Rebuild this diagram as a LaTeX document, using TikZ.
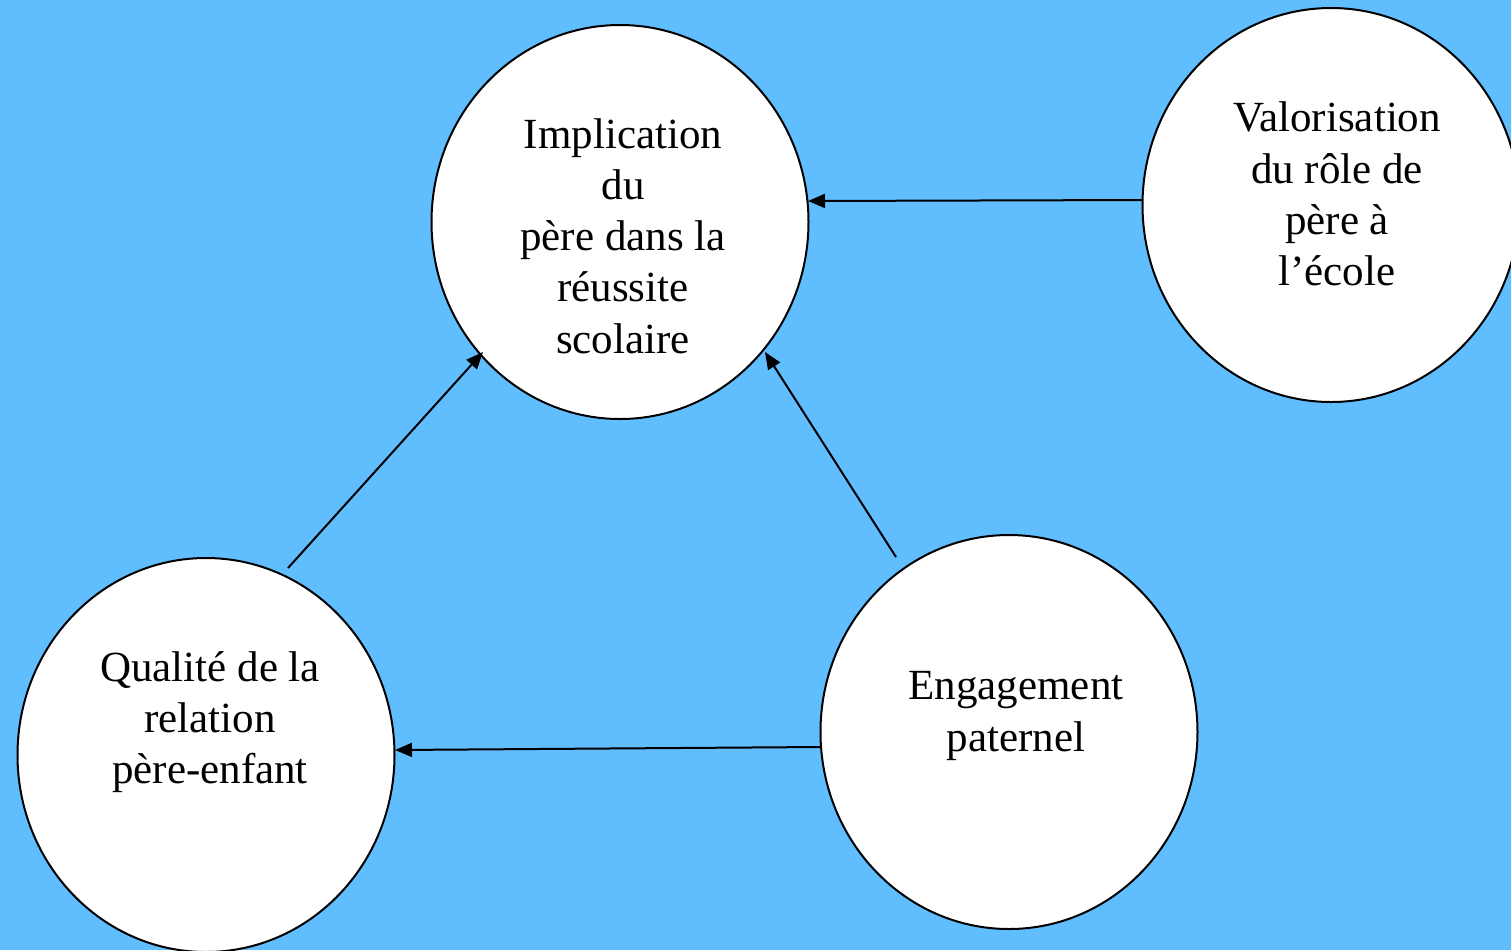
\documentclass[tikz,border=0pt]{standalone}
\usepackage{fontspec}
\setmainfont{Liberation Serif}
\usetikzlibrary{shapes.geometric,arrows.meta}
\definecolor{bgblue}{RGB}{96,189,254}
\begin{document}
\begin{tikzpicture}[x=0.5pt,y=-0.5pt,
  bubble/.style={ellipse,draw=black,line width=1pt,fill=white,minimum width=377pt*0.5,minimum height=394pt*0.5,inner sep=0pt},
  label text/.style={align=center,font=\fontsize{21.5pt}{25.6pt}\selectfont,inner sep=0pt},
  arr/.style={line width=1pt,-{Triangle[length=8.5pt,width=7pt]}}]
\fill[bgblue] (0,0) rectangle (1511,950);
\useasboundingbox (0,0) rectangle (1511,950);
\begin{scope}
\clip (0,0) rectangle (1511,950);
\node[bubble] (impl) at (620,222) {};
\node[bubble] (val) at (1331,205) {};
\node[bubble] (qual) at (206,755) {};
\node[bubble] (eng) at (1009,732) {};
\end{scope}
\node[label text] (implt) at (623,236) {Implication\\du\\père dans la\\réussite\\scolaire};
\node[label text] (valt) at (1337,194) {Valorisation\\du rôle de\\père à\\l’école};
\node[label text] (qualt) at (210,722) {Qualité de la\\relation\\père-enfant};
\node[label text] (engt) at (1016,716) {Engagement\\paternel};
\coordinate (valout) at (1143,200);
\coordinate (implin1) at (808,201);
\coordinate (engout) at (820,747);
\coordinate (qualin) at (395,750);
\coordinate (qualout) at (288,568);
\coordinate (implin2) at (483,352);
\coordinate (engout2) at (896,557);
\coordinate (implin3) at (765,352);
\draw[arr] (valout) -- (implin1);
\draw[arr] (engout) -- (qualin);
\draw[arr] (qualout) -- (implin2);
\draw[arr] (engout2) -- (implin3);
\end{tikzpicture}
\end{document}
